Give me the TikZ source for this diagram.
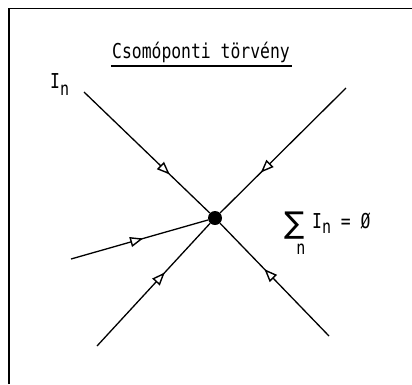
\documentclass[tikz,border=0pt]{standalone}
\usepackage{fontspec}
\setmainfont{DejaVu Sans Mono}
\newfontfamily\symfont{DejaVu Sans}
\usetikzlibrary{arrows.meta,decorations.markings}
\newcommand{\tall}[1]{\scalebox{1}[1.25]{#1}}
\tikzset{
  wire/.style={line width=1.3pt},
  frameline/.style={line width=1.6pt},
  junction/.style={circle,fill=black,inner sep=0pt,minimum size=14pt},
  txt/.style={inner sep=0pt,font=\fontsize{16.4}{18}\selectfont},
  subtxt/.style={inner sep=0pt,font=\fontsize{15}{15}\selectfont},
  inarrow/.style={postaction={decorate},decoration={markings,
      mark=at position #1 with {\arrow{Triangle[fill=white,length=13pt,width=10pt,line width=1.4pt]}}}}
}
\begin{document}
\begin{tikzpicture}[x=1pt,y=-1pt]
\useasboundingbox (0,0) rectangle (412,384);
% frame (left and top edges)
\coordinate (fb) at (9,384);
\coordinate (fc) at (9,8.5);
\coordinate (fr) at (412,8.5);
\draw[frameline] (fb) -- (fc) -- (fr);
% title
\node[txt,anchor=base] (title) at (201,58) {\tall{Csomóponti törvény}};
\draw[wire] ([yshift=-8pt,xshift=-1pt]title.base west) -- ([yshift=-8pt,xshift=2pt]title.base east);
% junction and branches
\node[junction] (J) at (215,218) {};
\coordinate (a) at (84,92);
\coordinate (b) at (346,88);
\coordinate (c) at (71,259);
\coordinate (d) at (97,346);
\coordinate (e) at (329,336);
\draw[wire,inarrow=119pt] (a) -- (J);
\draw[wire,inarrow=120pt] (b) -- (J);
\draw[wire,inarrow=75pt] (c) -- (J);
\draw[wire,inarrow=100pt] (d) -- (J);
\draw[wire,inarrow=93pt] (e) -- (J);
% current label
\node[txt,anchor=base west] (In) at (50,88) {\tall{I}\raisebox{-7pt}{\fontsize{15}{15}\selectfont\tall{n}}};
% Kirchhoff sum
\node[inner sep=0pt,anchor=base,font=\symfont\fontsize{30}{30}\selectfont] (sig) at (295,233) {∑};
\node[subtxt,anchor=base] (sn) at (301,254) {\tall{n}};
\node[txt,anchor=base west] (eq) at (312,228) {\tall{I}\raisebox{-5pt}{\fontsize{15}{15}\selectfont\tall{n}}\tall{ = Ø}};
\end{tikzpicture}
\end{document}
